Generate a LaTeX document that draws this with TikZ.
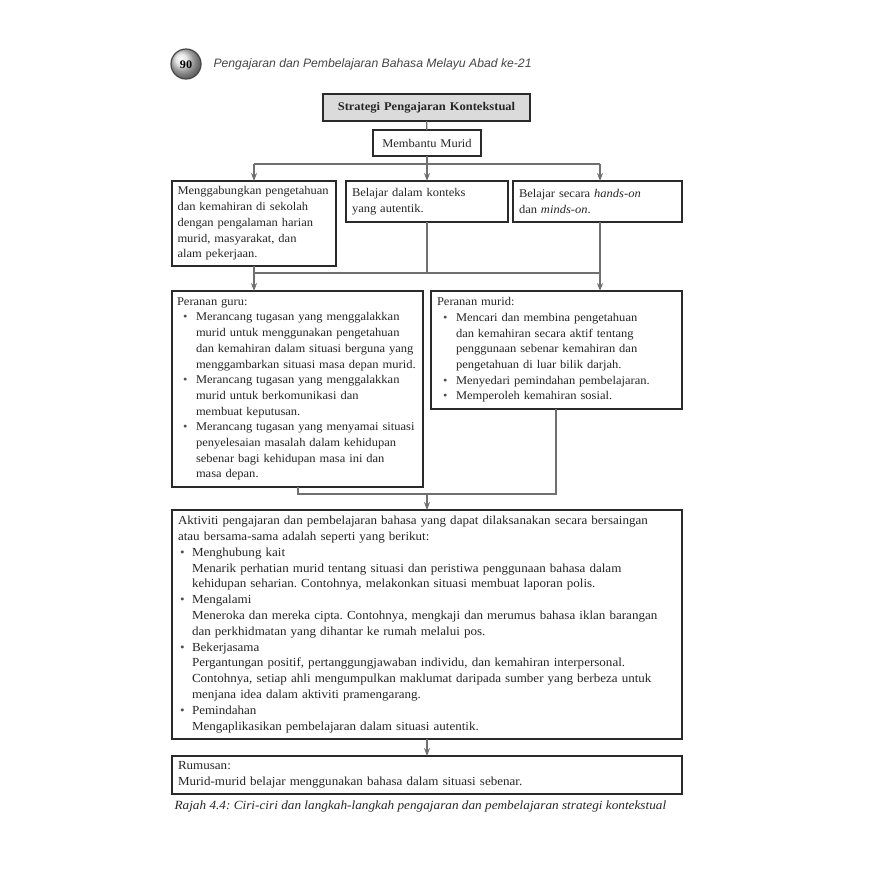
\documentclass[tikz,border=0pt]{standalone}
\usepackage{fontspec}
\setmainfont[FakeStretch=1.06]{Liberation Serif}
\newfontfamily\hdrfont{Liberation Sans}
\usetikzlibrary{arrows.meta,shadings}
\definecolor{boxc}{HTML}{2A2A2A}
\definecolor{linec}{HTML}{707070}
\definecolor{txtc}{HTML}{262626}
\definecolor{bulc}{HTML}{505050}
\frenchspacing
\newcommand{\myBody}{\fontsize{11.8pt}{15.7pt}\selectfont}
\newcommand{\myBig}{\fontsize{12.3pt}{15.8pt}\selectfont}
\newcommand{\myb}[2]{\makebox[#2][l]{\hspace{#1}{\color{bulc}\textbullet}}}
\newcommand{\myi}[1]{\hspace*{#1}}
\begin{document}
\begin{tikzpicture}[x=1pt,y=-1pt,
  box/.style={draw=boxc, line width=1.8pt, rectangle, inner xsep=6pt, inner ysep=3pt,
     align=left, anchor=north west, font=\myBody, text=txtc, outer sep=0pt},
  conn/.style={draw=linec, line width=1.3pt},
  arr/.style={conn, -{Stealth[length=8pt,width=6pt]}}]
\useasboundingbox[fill=white] (0,0) rectangle (873,873);

% header
\shade[ball color=gray!25, draw=gray!55!black, line width=1.2pt] (186,64) circle (15);
\node[font=\bfseries\fontsize{11.5pt}{13pt}\selectfont, text=black] (pg) at (186,64.5) {90};
\node[anchor=west, font=\hdrfont\itshape\fontsize{12.2pt}{14pt}\selectfont, text=gray!55!black] (hdr) at (210,64) {Pengajaran dan Pembelajaran Bahasa Melayu Abad ke-21};

% title and helper
\node[box, fill=gray!28, text width=195pt, minimum height=27pt, align=center, font=\bfseries\myBody] (title) at (323,94) {Strategi Pengajaran Kontekstual};
\node[box, text width=96pt, minimum height=26pt, align=center] (memb) at (373,130) {Membantu Murid};

% three boxes
\node[box, text width=153pt, inner xsep=5.5pt, minimum height=85pt] (b1) at (172,181) {Menggabungkan pengetahuan\\dan kemahiran di sekolah\\dengan pengalaman harian\\murid, masyarakat, dan\\alam pekerjaan.};
\node[box, text width=150pt, minimum height=41pt] (b2) at (346,181) {Belajar dalam konteks\\yang autentik.\\[-1pt]};
\node[box, text width=157pt, minimum height=41pt] (b3) at (513,181) {Belajar secara \textit{hands-on}\\dan \textit{minds-on}.\\[-1pt]};

% roles
\node[box, inner xsep=5pt, text width=241pt, minimum height=196pt] (guru) at (172,291) {Peranan guru:\\
\myb{6pt}{19pt}Merancang tugasan yang menggalakkan\\
\myi{19pt}murid untuk menggunakan pengetahuan\\
\myi{19pt}dan kemahiran dalam situasi berguna yang\\
\myi{19pt}menggambarkan situasi masa depan murid.\\
\myb{6pt}{19pt}Merancang tugasan yang menggalakkan\\
\myi{19pt}murid untuk berkomunikasi dan\\
\myi{19pt}membuat keputusan.\\
\myb{6pt}{19pt}Merancang tugasan yang menyamai situasi\\
\myi{19pt}penyelesaian masalah dalam kehidupan\\
\myi{19pt}sebenar bagi kehidupan masa ini dan\\
\myi{19pt}masa depan.};
\node[box, text width=239pt, minimum height=118pt] (murid) at (431,291) {Peranan murid:\\
\myb{6pt}{19pt}Mencari dan membina pengetahuan\\
\myi{19pt}dan kemahiran secara aktif tentang\\
\myi{19pt}penggunaan sebenar kemahiran dan\\
\myi{19pt}pengetahuan di luar bilik darjah.\\
\myb{6pt}{19pt}Menyedari pemindahan pembelajaran.\\
\myb{6pt}{19pt}Memperoleh kemahiran sosial.};

% activities
\node[box, font=\myBig, text width=498pt, minimum height=229pt] (akt) at (172,510) {Aktiviti pengajaran dan pembelajaran bahasa yang dapat dilaksanakan secara bersaingan\\
atau bersama-sama adalah seperti yang berikut:\\
\myb{2pt}{14pt}Menghubung kait\\
\myi{14pt}Menarik perhatian murid tentang situasi dan peristiwa penggunaan bahasa dalam\\
\myi{14pt}kehidupan seharian. Contohnya, melakonkan situasi membuat laporan polis.\\
\myb{2pt}{14pt}Mengalami\\
\myi{14pt}Meneroka dan mereka cipta. Contohnya, mengkaji dan merumus bahasa iklan barangan\\
\myi{14pt}dan perkhidmatan yang dihantar ke rumah melalui pos.\\
\myb{2pt}{14pt}Bekerjasama\\
\myi{14pt}Pergantungan positif, pertanggungjawaban individu, dan kemahiran interpersonal.\\
\myi{14pt}Contohnya, setiap ahli mengumpulkan maklumat daripada sumber yang berbeza untuk\\
\myi{14pt}menjana idea dalam aktiviti pramengarang.\\
\myb{2pt}{14pt}Pemindahan\\
\myi{14pt}Mengaplikasikan pembelajaran dalam situasi autentik.};

\node[box, font=\myBig, text width=498pt, minimum height=38pt] (rum) at (172,756) {Rumusan:\\Murid-murid belajar menggunakan bahasa dalam situasi sebenar.};

% caption
\node[anchor=west, font=\itshape\fontsize{12.5pt}{14pt}\selectfont, text=txtc] (cap) at (171,806) {Rajah 4.4: Ciri-ciri dan langkah-langkah pengajaran dan pembelajaran strategi kontekstual};

% connectors
\coordinate (jt) at (427,164);
\coordinate (jl) at (254,164);
\coordinate (jr) at (600,164);
\coordinate (kl) at (254,273);
\coordinate (km) at (427,273);
\coordinate (kr) at (600,273);
\coordinate (gl) at (298,494);
\coordinate (gr) at (556,494);
\coordinate (gm) at (427,494);

\draw[conn] (title) -- (memb);
\draw[conn] (memb) -- (jt);
\draw[conn] (jl) -- (jr);
\draw[arr] (jl) -- (jl |- b1.north);
\draw[arr] (jt) -- (b2.north);
\draw[arr] (jr) -- (jr |- b3.north);

\draw[conn] (kl |- b1.south) -- (kl);
\draw[conn] (b2.south) -- (km);
\draw[conn] (kr |- b3.south) -- (kr);
\draw[conn] (kl) -- (kr);
\draw[arr] (kl) -- (kl |- guru.north);
\draw[arr] (kr) -- (kr |- murid.north);

\draw[conn] (gl |- guru.south) -- (gl) -- (gr) -- (gr |- murid.south);
\draw[arr] (gm) -- (akt.north);
\draw[arr] (akt.south) -- (rum.north);
\end{tikzpicture}
\end{document}
